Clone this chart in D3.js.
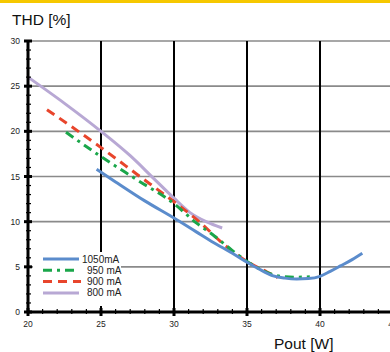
<!DOCTYPE html>
<html>
<head>
<meta charset="utf-8">
<script src="https://cdn.jsdelivr.net/npm/d3@7"></script>
<style>
  body { margin: 0; background: #fff; }
  svg { display: block; font-family: Arial, "Liberation Sans", sans-serif; }
</style>
</head>
<body>
<div id="chart"></div>
<script>
// THD vs output power, one series per drive current
const xTicks = [20, 25, 30, 35, 40, 45];
const yTicks = [0, 5, 10, 15, 20, 25, 30];

const pout1050 = [24.7, 26, 28, 30, 31.5, 32.7, 34, 35, 36, 36.8, 37.6, 38.4, 39.2, 40, 40.7, 41.4, 42.2, 42.9];
const thd1050  = [15.8, 14.4, 12.3, 10.4, 8.9, 7.7, 6.5, 5.5, 4.6, 4.0, 3.75, 3.65, 3.7, 3.95, 4.5, 5.1, 5.8, 6.5];

const pout950 = [22.6, 25, 27.5, 30, 31.5, 32.7, 34, 35, 36.2, 37.3, 38.3, 39.3];
const thd950  = [19.9, 17.2, 14.6, 12.0, 9.9, 8.5, 6.8, 5.6, 4.5, 3.95, 3.85, 3.9];

const pout900 = [21.3, 23, 25, 27.5, 30, 31.8, 33.4, 35, 36.4, 37.1];
const thd900  = [22.4, 20.5, 18.2, 15.2, 12.2, 9.9, 7.5, 5.6, 4.4, 3.8];

const pout800 = [20, 22.5, 25, 27, 28.6, 30, 31.1, 32.2, 33.3];
const thd800  = [26, 23.1, 20, 17.3, 14.8, 12.6, 11.0, 10.0, 9.3];

const series = [
  { name: '1050mA', xs: pout1050, ys: thd1050, color: '#5b8ccc', dash: null },
  { name: '950 mA', xs: pout950, ys: thd950, color: '#1aa64a', dash: '9,5,3,5' },
  { name: '900 mA', xs: pout900, ys: thd900, color: '#e8452c', dash: '9,6' },
  { name: '800 mA', xs: pout800, ys: thd800, color: '#b8a8d4', dash: null }
];

const width = 390, height = 352;
const margin = { top: 41, left: 28, bottom: 40 };
const plotRight = 393;

const svg = d3.select('#chart').append('svg')
  .attr('width', width)
  .attr('height', height);

// yellow strip along the top edge
svg.append('rect').attr('x', 0).attr('y', 0).attr('width', width).attr('height', 3)
  .attr('fill', '#f6c800');

const x = d3.scaleLinear().domain([20, 45]).range([margin.left, plotRight]);
const y = d3.scaleLinear().domain([0, 30]).range([height - margin.bottom, margin.top]);

// horizontal grid
svg.append('g')
  .selectAll('line')
  .data(yTicks.filter(d => d > 0))
  .join('line')
  .attr('x1', x(20)).attr('x2', plotRight)
  .attr('y1', d => y(d)).attr('y2', d => y(d))
  .attr('stroke', '#8a8a8a').attr('stroke-width', 1.6);

// vertical grid
svg.append('g')
  .selectAll('line')
  .data(xTicks.filter(d => d > 20))
  .join('line')
  .attr('x1', d => x(d)).attr('x2', d => x(d))
  .attr('y1', y(30)).attr('y2', y(0))
  .attr('stroke', '#000').attr('stroke-width', 2);

// curves
const line = d3.line()
  .x(d => x(d[0]))
  .y(d => y(d[1]))
  .curve(d3.curveMonotoneX);

svg.append('g')
  .selectAll('path')
  .data(series.slice().reverse())
  .join('path')
  .attr('d', s => line(s.xs.map((v, i) => [v, s.ys[i]])))
  .attr('fill', 'none')
  .attr('stroke', s => s.color)
  .attr('stroke-width', 3)
  .attr('stroke-dasharray', s => s.dash);

// legend box
const lg = svg.append('g');
lg.append('rect')
  .attr('x', 33).attr('y', 252).attr('width', 88).attr('height', 54)
  .attr('fill', '#fff');
series.forEach((s, i) => {
  const yy = 259 + i * 11.3;
  lg.append('line')
    .attr('x1', 43).attr('x2', i == 2 ? 81 : 79)
    .attr('y1', yy).attr('y2', yy)
    .attr('stroke', s.color).attr('stroke-width', 3)
    .attr('stroke-dasharray', s.dash);
  lg.append('text')
    .attr('x', i == 0 ? 82 : 87).attr('y', yy + 3.5)
    .attr('font-size', 10)
    .attr('fill', '#222')
    .text(s.name);
});

// axes
const minorX = d3.range(21, 46);
const minorY = d3.range(1, 30);

svg.append('g')
  .selectAll('line')
  .data(minorY)
  .join('line')
  .attr('x1', x(20) - 2).attr('x2', x(20) + 3)
  .attr('y1', d => y(d)).attr('y2', d => y(d))
  .attr('stroke', '#000').attr('stroke-width', 1.2);

svg.append('g')
  .selectAll('line')
  .data(minorX)
  .join('line')
  .attr('x1', d => x(d)).attr('x2', d => x(d))
  .attr('y1', y(0) - 3).attr('y2', y(0) + 2)
  .attr('stroke', '#000').attr('stroke-width', 1.2);

svg.append('line')
  .attr('x1', x(20)).attr('x2', x(20))
  .attr('y1', y(30)).attr('y2', y(0))
  .attr('stroke', '#000').attr('stroke-width', 3);

svg.append('line')
  .attr('x1', x(20)).attr('x2', plotRight)
  .attr('y1', y(0)).attr('y2', y(0))
  .attr('stroke', '#000').attr('stroke-width', 3);

// major ticks
svg.append('g')
  .selectAll('line')
  .data(yTicks)
  .join('line')
  .attr('x1', x(20) - 4).attr('x2', x(20) + 4)
  .attr('y1', d => y(d)).attr('y2', d => y(d))
  .attr('stroke', '#000').attr('stroke-width', 3);

svg.append('g')
  .selectAll('line')
  .data(xTicks)
  .join('line')
  .attr('x1', d => x(d)).attr('x2', d => x(d))
  .attr('y1', y(0) - 4).attr('y2', y(0) + 4)
  .attr('stroke', '#000').attr('stroke-width', 3);

// tick labels
svg.append('g')
  .selectAll('text')
  .data(yTicks)
  .join('text')
  .attr('x', 20).attr('y', d => y(d) + 3)
  .attr('text-anchor', 'end')
  .attr('font-size', 8.5)
  .attr('fill', '#222')
  .text(d => d);

svg.append('g')
  .selectAll('text')
  .data(xTicks)
  .join('text')
  .attr('x', d => x(d)).attr('y', y(0) + 15)
  .attr('text-anchor', 'middle')
  .attr('font-size', 8.5)
  .attr('fill', '#222')
  .text(d => d);

// axis titles
svg.append('text')
  .attr('x', 12).attr('y', 25)
  .attr('font-size', 15.5)
  .attr('fill', '#111')
  .text('THD [%]');

svg.append('text')
  .attr('x', 274).attr('y', 349)
  .attr('font-size', 15.5)
  .attr('fill', '#111')
  .text('Pout [W]');
</script>
</body>
</html>
